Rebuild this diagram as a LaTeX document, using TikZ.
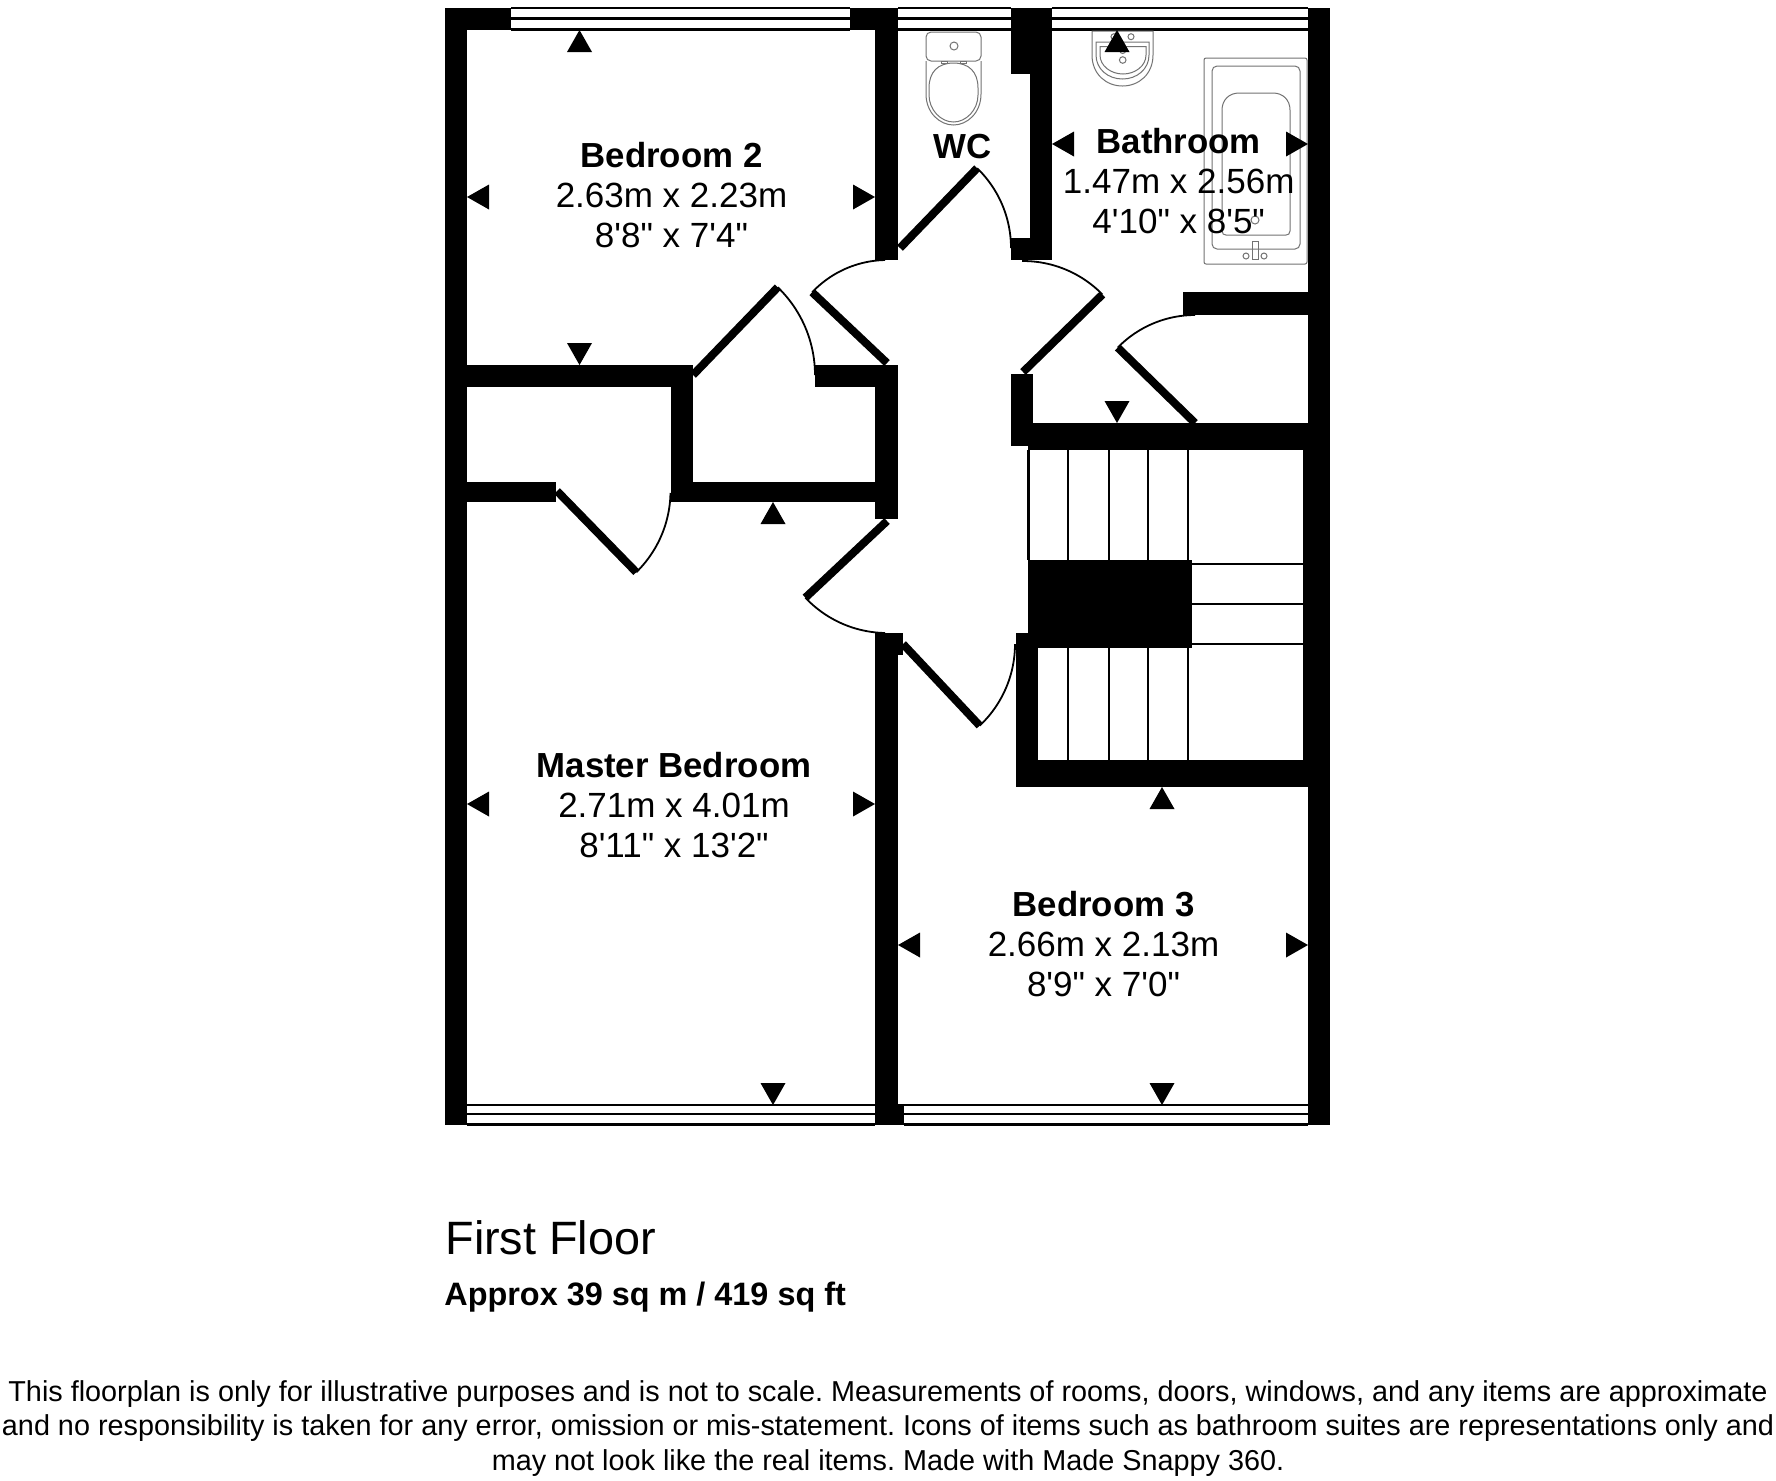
\documentclass[tikz,border=0pt]{standalone}
\usepackage{fontspec}
\newfontfamily\plan{Liberation Sans}
\frenchspacing
\tikzset{
  wall/.style={fill=black,draw=none},
  doorleaf/.style={draw=black,line width=4pt,line cap=butt},
  doorswing/.style={draw=black,line width=0.9pt},
  glazing/.style={draw=black,line width=1.1pt},
  tread/.style={draw=black,line width=1.2pt},
  fixture/.style={draw=black!55,line width=0.5pt,fill=none},
  tick/.style={fill=black,draw=none},
  titletext/.style={font=\plan\bfseries\fontsize{17.4}{20}\selectfont,anchor=base,inner sep=0},
  dimtext/.style={font=\plan\fontsize{17.5}{20}\selectfont,anchor=base,inner sep=0},
  floortext/.style={font=\plan\fontsize{23.4}{28}\selectfont,anchor=base west,inner sep=0},
  areatext/.style={font=\plan\bfseries\fontsize{16.2}{20}\selectfont,anchor=base west,inner sep=0},
  notetext/.style={font=\plan\fontsize{14.4}{17}\selectfont,anchor=base,inner sep=0}
}
% hx hy r tipangle jambangle (angles measured with y pointing down)
\newcommand\swingdoor[5]{%
  \draw[doorleaf] (#1,#2) -- ({#1+#3*cos(#4)},{#2+#3*sin(#4)});
  \draw[doorswing,domain=#4:#5,samples=25,variable=\t] plot ({#1+#3*cos(\t)},{#2+#3*sin(\t)});
}
\newcommand\wallrect[4]{\fill[wall] (#1,#2) rectangle (#3,#4);}
\newcommand\tickup[2]{\fill[tick] (#1,#2) -- ++(12.5,22) -- ++(-25,0) -- cycle;}
\newcommand\tickdown[2]{\fill[tick] (#1,#2) -- ++(12.5,-22) -- ++(-25,0) -- cycle;}
\newcommand\tickleft[2]{\fill[tick] (#1,#2) -- ++(22,12.5) -- ++(0,-25) -- cycle;}
\newcommand\tickright[2]{\fill[tick] (#1,#2) -- ++(-22,12.5) -- ++(0,-25) -- cycle;}
\newcommand\roomtag[6]{%
  \node[titletext] (#1-title) at (#2,#3) {#4};
  \node[dimtext] (#1-metric) at (#2,#3+40) {#5};
  \node[dimtext] (#1-imperial) at (#2,#3+80) {#6};
}
\begin{document}
\begin{tikzpicture}[x=0.5pt,y=-0.5pt]
\useasboundingbox (0,0) rectangle (1776,1480);
\fill[white] (0,0) rectangle (1776,1480);
% windows
\foreach \yy in {8,18.5,29.5} {
  \draw[glazing] (511,\yy) -- (850,\yy);
  \draw[glazing] (898,\yy) -- (1011,\yy);
  \draw[glazing] (1052,\yy) -- (1308,\yy);
}
\foreach \yy in {1105,1114,1124.5} {
  \draw[glazing] (467,\yy) -- (875,\yy);
  \draw[glazing] (904,\yy) -- (1308,\yy);
}
\draw[glazing] (898,1105) -- (904,1105);
% walls
\wallrect{445}{8}{467}{1125}
\wallrect{445}{8}{511}{30}
\wallrect{850}{8}{898}{30}
\wallrect{875}{8}{898}{260}
\wallrect{467}{365}{693}{387}
\wallrect{671}{365}{693}{502}
\wallrect{815}{365}{898}{387}
\wallrect{875}{365}{898}{519}
\wallrect{671}{482}{875}{502}
\wallrect{467}{482}{556}{502}
\wallrect{1011}{8}{1052}{74}
\wallrect{1030}{74}{1052}{260}
\wallrect{1011}{238}{1052}{260}
\wallrect{1308}{8}{1330}{1125}
\wallrect{1303}{423}{1308}{787}
\wallrect{1183}{292}{1308}{315}
\wallrect{1011}{374}{1033}{446}
\wallrect{1028}{423}{1303}{450}
\wallrect{1028}{560}{1192}{648}
\wallrect{1016}{633}{1038}{787}
\wallrect{1016}{760}{1303}{787}
\wallrect{875}{633}{898}{1125}
\wallrect{875}{633}{903}{655}
\wallrect{898}{1106}{904}{1125}
% stairs
\draw[tread] (1028.5,450) -- (1028.5,560);
\foreach \xx in {1068,1109,1148,1188} {
  \draw[tread] (\xx,450) -- (\xx,560);
  \draw[tread] (\xx,648) -- (\xx,760);
}
\draw[tread] (1188,560) -- (1188,564) -- (1303,564);
\draw[tread] (1192,604) -- (1303,604);
\draw[tread] (1188,648) -- (1188,644) -- (1303,644);
% doors
\swingdoor{693}{375}{122}{-46}{0}
\swingdoor{887}{363}{103}{-136.6}{-91}
\swingdoor{900}{248}{111}{-46}{0}
\swingdoor{1023}{372}{111}{-44.3}{-90.5}
\swingdoor{1195}{423}{108}{-135.7}{-90}
\swingdoor{557}{491}{113.5}{45.7}{1}
\swingdoor{887}{521}{112}{136.8}{91}
\swingdoor{903}{644}{112}{46.8}{0}
% toilet
\draw[fixture,rounded corners=2.5pt] (926,32) rectangle (981,61);
\draw[fixture] (954,46) circle[radius=4];
\draw[fixture] (941,61) rectangle (947,63.5);
\draw[fixture] (960,61) rectangle (966,63.5);
\draw[fixture] (926,61) -- (926,94) .. controls (926,113) and (940,125) .. (953.5,125) .. controls (967,125) and (981,113) .. (981,94) -- (981,61);
\draw[fixture] (929,88) .. controls (929,72) and (938,63) .. (953.5,63) .. controls (969,63) and (978,72) .. (978,88) -- (978,95) .. controls (978,110) and (966,122) .. (953.5,122) .. controls (941,122) and (929,110) .. (929,95) -- cycle;
% basin
\draw[fixture] (1092,31) -- (1092,55) .. controls (1092,74) and (1106,86) .. (1122.5,86) .. controls (1139,86) and (1153,74) .. (1153,55) -- (1153,31) -- cycle;
\draw[fixture] (1096,42) -- (1149,42) -- (1149,55) .. controls (1149,69) and (1137,79) .. (1122.5,79) .. controls (1108,79) and (1096,69) .. (1096,55) -- cycle;
\draw[fixture] (1100,46.5) -- (1146,46.5) -- (1146,55) .. controls (1146,66) and (1135,74) .. (1123,74) .. controls (1111,74) and (1100,66) .. (1100,55) -- cycle;
\draw[fixture] (1122.7,60) circle[radius=3.3];
\draw[fixture] (1122.7,50.5) circle[radius=3];
\draw[fixture] (1131,36.7) circle[radius=3];
\draw[fixture] (1114,36.7) circle[radius=3];
% bath
\draw[fixture,rounded corners=1pt] (1204,58) rectangle (1307,264);
\draw[fixture,rounded corners=2.5pt] (1212,66) rectangle (1300,249);
\draw[fixture] (1222,110) .. controls (1222,100) and (1229,93) .. (1239,93) -- (1273,93) .. controls (1283,93) and (1290,100) .. (1290,110) -- (1290,231) .. controls (1290,234) and (1288,235) .. (1286,235) -- (1226,235) .. controls (1224,235) and (1222,234) .. (1222,231) -- cycle;
\draw[fixture] (1255,220) circle[radius=4];
\draw[fixture] (1252,241) rectangle (1258,259);
\draw[fixture] (1246,256) circle[radius=3];
\draw[fixture] (1264,256) circle[radius=3];
% size markers
\tickup{579.5}{30}
\tickdown{579.5}{365}
\tickleft{467}{197}
\tickright{875}{197}
\tickup{1117}{30}
\tickdown{1117}{423}
\tickleft{1052}{144}
\tickright{1308}{144}
\tickup{773}{502}
\tickdown{773}{1105}
\tickleft{467}{804}
\tickright{875}{804}
\tickup{1162}{787}
\tickdown{1162}{1105}
\tickleft{898}{945}
\tickright{1308}{945}
% labels
\roomtag{bedtwo}{671.5}{167}{Bedroom 2}{2.63m x 2.23m}{8'8" x 7'4"}
\roomtag{bath}{1178.7}{153}{Bathroom}{1.47m x 2.56m}{4'10" x 8'5"}
\roomtag{master}{674}{777}{Master Bedroom}{2.71m x 4.01m}{8'11" x 13'2"}
\roomtag{bedthree}{1103.5}{916}{Bedroom 3}{2.66m x 2.13m}{8'9" x 7'0"}
\node[titletext] (wc) at (962.5,158) {WC};
\node[floortext] (floor) at (445,1254) {First Floor};
\node[areatext] (area) at (444,1305) {Approx 39 sq m / 419 sq ft};
\node[notetext] (noteone) at (888,1401) {This floorplan is only for illustrative purposes and is not to scale. Measurements of rooms, doors, windows, and any items are approximate};
\node[notetext] (notetwo) at (888,1435) {and no responsibility is taken for any error, omission or mis-statement. Icons of items such as bathroom suites are representations only and};
\node[notetext] (notethree) at (888,1470) {may not look like the real items. Made with Made Snappy 360.};
\end{tikzpicture}
\end{document}
